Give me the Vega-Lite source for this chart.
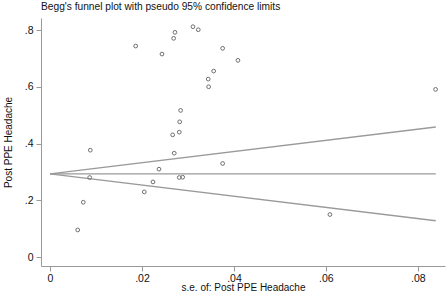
{
  "$schema": "https://vega.github.io/schema/vega-lite/v6.json",
  "width": 404,
  "height": 248,
  "autosize": {"type": "none"},
  "padding": {"left": 41, "top": 18, "right": 2, "bottom": 26},
  "background": "white",
  "title": {"text": "Begg's funnel plot with pseudo 95% confidence limits", "anchor": "start", "frame": "group", "font": "Liberation Sans", "fontSize": 10.2, "fontWeight": "normal", "color": "#111", "offset": 6},
  "datasets": {
    "studies": [
      {"se": 0.01863, "effect": 0.7435},
      {"se": 0.02435, "effect": 0.7152},
      {"se": 0.02689, "effect": 0.7706},
      {"se": 0.02717, "effect": 0.7918},
      {"se": 0.03109, "effect": 0.8116},
      {"se": 0.03224, "effect": 0.8010},
      {"se": 0.03754, "effect": 0.7354},
      {"se": 0.04087, "effect": 0.6930},
      {"se": 0.03559, "effect": 0.6553},
      {"se": 0.03441, "effect": 0.6270},
      {"se": 0.0345, "effect": 0.5999},
      {"se": 0.08385, "effect": 0.5907},
      {"se": 0.02841, "effect": 0.5166},
      {"se": 0.0282, "effect": 0.4764},
      {"se": 0.02811, "effect": 0.4400},
      {"se": 0.02667, "effect": 0.4305},
      {"se": 0.02702, "effect": 0.3659},
      {"se": 0.03754, "effect": 0.3296},
      {"se": 0.0237, "effect": 0.3095},
      {"se": 0.02239, "effect": 0.2646},
      {"se": 0.02811, "effect": 0.2802},
      {"se": 0.02885, "effect": 0.2812},
      {"se": 0.00876, "effect": 0.3765},
      {"se": 0.00863, "effect": 0.2802},
      {"se": 0.00724, "effect": 0.1930},
      {"se": 0.00602, "effect": 0.0953},
      {"se": 0.0205, "effect": 0.2294},
      {"se": 0.06087, "effect": 0.1496}
    ],
    "funnel": [
      {"se": 0, "effect": 0.293, "limit": "upper"},
      {"se": 0.0839, "effect": 0.458, "limit": "upper"},
      {"se": 0, "effect": 0.293, "limit": "pooled"},
      {"se": 0.0839, "effect": 0.293, "limit": "pooled"},
      {"se": 0, "effect": 0.293, "limit": "lower"},
      {"se": 0.0839, "effect": 0.128, "limit": "lower"}
    ]
  },
  "encoding": {
    "x": {
      "field": "se", "type": "quantitative",
      "scale": {"domain": [-0.00196, 0.0859], "nice": false, "zero": false},
      "axis": {"title": "s.e. of: Post PPE Headache", "values": [0, 0.02, 0.04, 0.06, 0.08], "labelExpr": "datum.value == 0 ? '0' : replace(format(datum.value, '.2f'), '0.', '.')", "labelPadding": 2, "titlePadding": -1, "labelFlush": false}
    },
    "y": {
      "field": "effect", "type": "quantitative",
      "scale": {"domain": [-0.0317, 0.8423], "nice": false, "zero": false},
      "axis": {"title": "Post PPE Headache", "values": [0, 0.2, 0.4, 0.6, 0.8], "labelExpr": "datum.value == 0 ? '0' : replace(format(datum.value, '.1f'), '0.', '.')", "labelPadding": 3, "titlePadding": 11, "labelFlush": false}
    }
  },
  "layer": [
    {
      "data": {"name": "funnel"},
      "mark": {"type": "line", "color": "#9a9a9a", "strokeWidth": 1.4},
      "encoding": {
        "detail": {"field": "limit", "type": "nominal"}
      }
    },
    {
      "data": {"name": "studies"},
      "mark": {"type": "point", "shape": "circle", "filled": false, "size": 14, "stroke": "#6e6e6e", "strokeWidth": 1, "opacity": 1}
    }
  ],
  "config": {
    "view": {"stroke": null},
    "font": "Liberation Sans",
    "axis": {"grid": false, "domainColor": "#999999", "tickColor": "#999999", "tickSize": 5, "labelColor": "#111", "labelFontSize": 10.5, "labelFont": "Liberation Sans", "titleFont": "Liberation Sans", "titleFontSize": 10, "titleFontWeight": "normal", "titleColor": "#111"}
  }
}
